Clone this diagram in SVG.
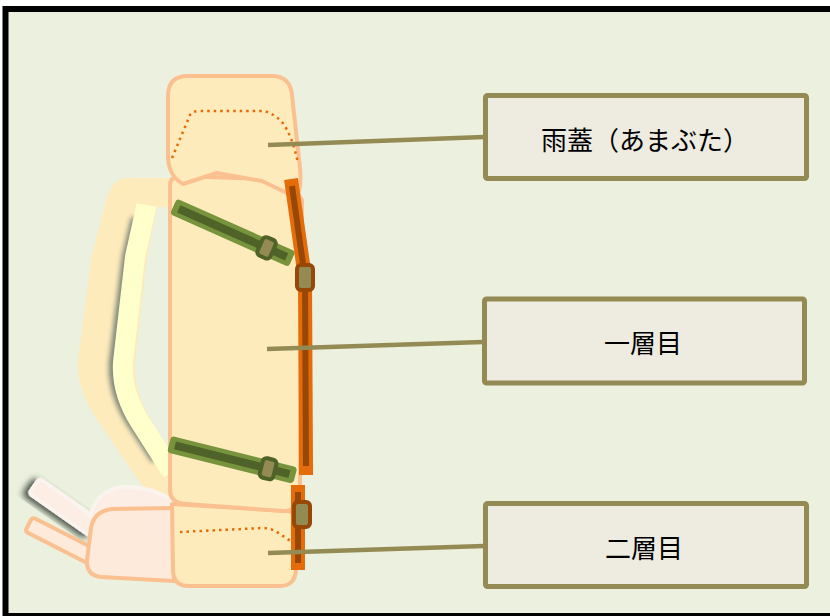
<svg xmlns="http://www.w3.org/2000/svg" width="830" height="616" viewBox="0 0 830 616">
  <style>
    .pack { fill: #FEEBBB; stroke: #FAC090; stroke-width: 4; stroke-linejoin: round; }
    .cushion { fill: #FDEADA; stroke: #FAC090; stroke-width: 4; stroke-linejoin: round; }
    .pale { fill: #FCEDE5; stroke: #FBF3EE; stroke-width: 4; stroke-linejoin: round; }
    .stitch { fill: none; stroke: #E46C0A; stroke-width: 2.5; stroke-dasharray: 2.5 4; }
    .label { fill: #EEECE1; stroke: #948A54; stroke-width: 5; }
    .leader { stroke: #948A54; stroke-width: 4.5; fill: none; }
    .txt { font-family: "Noto Sans CJK JP", "Noto Sans", sans-serif; font-size: 26px; fill: #000; text-anchor: middle; dominant-baseline: central; }
    .g-out { fill: #77933C; }
    .g-in { fill: #4F6228; }
    .buckle-g { fill: #948A54; stroke: #4F6228; stroke-width: 4; }
    .o-out { fill: none; stroke: #E46C0A; stroke-width: 14; stroke-linecap: square; stroke-linejoin: round; }
    .o-in { fill: none; stroke: #974806; stroke-width: 6; stroke-linejoin: round; }
    .buckle-o { fill: #948A54; stroke: #974806; stroke-width: 4; }
  </style>
  <defs>
    <filter id="soft" x="-50%" y="-50%" width="200%" height="200%">
      <feGaussianBlur stdDeviation="2.5"/>
    </filter>
    <filter id="drop" x="-50%" y="-50%" width="200%" height="200%">
      <feGaussianBlur in="SourceAlpha" stdDeviation="3"/>
      <feOffset dx="-4" dy="4" result="b"/>
      <feFlood flood-color="#2F3A2F" flood-opacity="0.85"/>
      <feComposite in2="b" operator="in"/>
      <feMerge><feMergeNode/><feMergeNode in="SourceGraphic"/></feMerge>
    </filter>
  </defs>

  <!-- frame -->
  <rect x="5.5" y="9" width="830" height="607" fill="#EBF1DE" stroke="#000" stroke-width="6"/>

  <!-- back pad and shoulder strap -->
  <g id="backpad">
    <path d="M170,178 L126,178 Q110,180 105,205 L92,255 L78,360 Q76,388 96,418 L150,497 L175,497 L175,462 L150,418 Q134,392 135,362 L147,257 L157,207 L170,207 Z" fill="#FEEBBB"/>
    <path d="M136,218 L127,257 L114,362 Q112,392 131,422 L156,460" fill="none" stroke="#6F7A72" stroke-width="10" opacity="0.9" filter="url(#soft)"/>
    <path d="M146,205 L145,212 L135,257 L123,362 Q121,392 140,422 L172,472" fill="none" stroke="#FFFFCC" stroke-width="20" stroke-linejoin="round"/>
  </g>

  <!-- bottom attachments -->
  <g id="bottom-gear">
    <g transform="translate(40,490) rotate(35)" filter="url(#drop)">
      <rect class="pale" x="-7" y="-9" width="74" height="18" rx="3"/>
    </g>
    <g transform="translate(34,527) rotate(27)">
      <rect class="cushion" x="-6" y="-8" width="76" height="16" rx="3"/>
    </g>
    <path class="pale" d="M90,517 Q96,491 122,487 Q150,486 172,500 L172,515 Z"/>
    <path class="cushion" d="M174,508 L112,509 Q94,511 91,528 L87,560 Q86,575 101,577 L174,581 Z"/>
  </g>

  <!-- second layer -->
  <g id="layer2">
    <path class="pack" d="M172,504 L288,511 Q297,512 297,524 L296,570 Q295,586 280,586 L189,586 Q173,586 173,570 Z"/>
    <path class="stitch" d="M180,532 L262,528 Q272,528 280,534 L292,542"/>
  </g>

  <!-- main body -->
  <g id="layer1">
    <path class="pack" d="M170,186 Q170,176 181,176 L290,180 L302,200 L300,494 Q298,512 283,511 L186,504 Q170,503 170,490 Z"/>
  </g>

  <!-- lid -->
  <g id="lid">
    <path class="pack" d="M183,184 Q169,176 168,158 L168,96 Q168,76 188,76 L272,76 Q290,76 292,95 L300,168 Q302,190 296,198 L287,193 L262,181 L217,173 Z"/>
    <path class="stitch" d="M172,158 L190,115 Q192,111 200,111 L262,111 Q272,112 282,122 Q292,135 298,163"/>
  </g>

  <!-- compression straps -->
  <g id="strap-upper" transform="translate(177,208) rotate(24)">
    <rect class="g-out" x="-4" y="-8.5" width="130" height="17" rx="3.5"/>
    <rect class="g-in" x="2" y="-4" width="118" height="8"/>
    <rect class="buckle-g" x="91" y="-10" width="14" height="20" rx="4"/>
  </g>
  <g id="strap-lower" transform="translate(173,445) rotate(14)">
    <rect class="g-out" x="-4" y="-8.5" width="130" height="17" rx="3.5"/>
    <rect class="g-in" x="2" y="-4" width="118" height="8"/>
    <rect class="buckle-g" x="91" y="-10" width="14" height="20" rx="4"/>
  </g>

  <!-- side straps -->
  <g id="side-strap-upper">
    <path class="o-out" d="M292,186 L305,278 L306,468"/>
    <path class="o-in" d="M292,186 L305,278 L306,466"/>
    <rect class="buckle-o" x="297" y="265" width="16" height="25" rx="4"/>
  </g>
  <g id="side-strap-lower">
    <path class="o-out" d="M298,492 L298,563"/>
    <path class="o-in" d="M298,492 L298,563"/>
    <rect class="buckle-o" x="294" y="502" width="16" height="25" rx="4"/>
  </g>

  <!-- leader lines -->
  <g id="connectors">
    <line class="leader" x1="268" y1="145" x2="484" y2="137"/>
    <line class="leader" x1="267" y1="349" x2="483" y2="342"/>
    <line class="leader" x1="268" y1="553" x2="484" y2="546"/>
  </g>

  <!-- labels -->
  <g id="label-lid">
    <rect class="label" x="485.5" y="95.5" width="321" height="83" rx="2"/>
    <text class="txt" x="645" y="138">雨蓋（あまぶた）</text>
  </g>
  <g id="label-first">
    <rect class="label" x="484.5" y="299" width="320" height="84" rx="2"/>
    <text class="txt" x="643" y="341">一層目</text>
  </g>
  <g id="label-second">
    <rect class="label" x="485.5" y="503.5" width="321" height="83" rx="2"/>
    <text class="txt" x="644" y="546">二層目</text>
  </g>
</svg>
